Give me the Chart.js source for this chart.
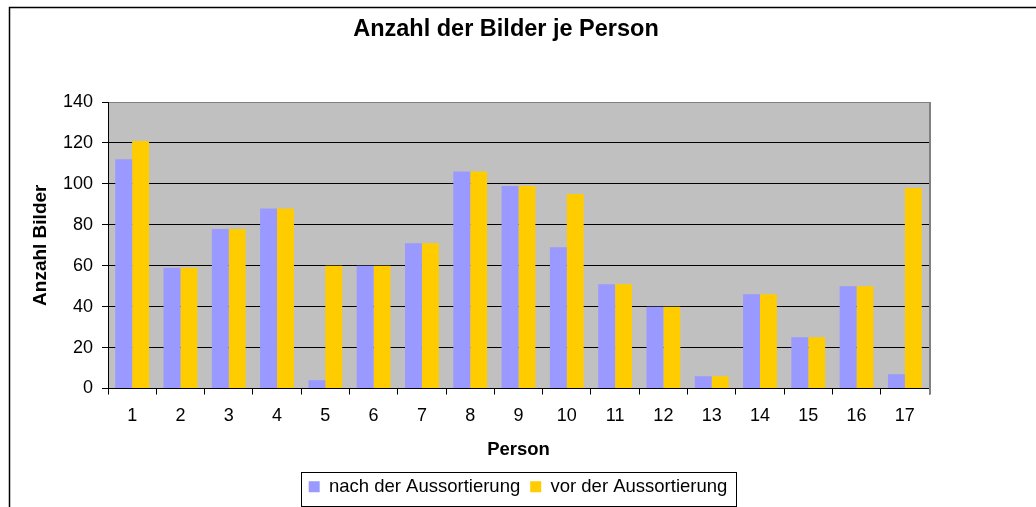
<!DOCTYPE html>
<html>
<head>
<meta charset="utf-8">
<script src="https://cdn.jsdelivr.net/npm/chart.js@4/dist/chart.umd.min.js"></script>
<style>
  html, body { margin: 0; padding: 0; background: #fff; }
  #wrap { width: 1036px; height: 507px; }
</style>
</head>
<body>
<div id="wrap"><canvas id="chartBilder"></canvas></div>
<script>
// ===== Anzahl der Bilder je Person =====

const personen = ['1', '2', '3', '4', '5', '6', '7', '8', '9', '10', '11', '12', '13', '14', '15', '16', '17'];
const nachAussortierung = [112, 59, 78, 88, 4, 60, 71, 106, 99, 69, 51, 40, 6, 46, 25, 50, 7];
const vorAussortierung  = [121, 59, 78, 88, 60, 60, 71, 106, 99, 95, 51, 40, 6, 46, 25, 50, 98];
const yTicks = [0, 20, 40, 60, 80, 100, 120, 140];

const FONT = "'Liberation Sans', Arial, sans-serif";
const C = {
  nach:  '#9999FF',
  vor:   '#FFCC00',
  plot:  '#C0C0C0',
  edge:  '#808080',
  ink:   '#000'
};

// Rahmen, grauer Plotbereich, Titel und Legendenkasten
const pluginFrame = {
  id: 'frame',
  beforeDraw(chart) {
    const { ctx, chartArea: a } = chart;
    ctx.save();
    ctx.fillStyle = '#fff';
    ctx.fillRect(0, 0, chart.width, chart.height);
    ctx.strokeStyle = C.ink;
    ctx.lineWidth = 1.5;
    ctx.beginPath();
    ctx.moveTo(9.5, chart.height);
    ctx.lineTo(9.5, 7.5);
    ctx.lineTo(chart.width, 7.5);
    ctx.stroke();
    ctx.fillStyle = C.plot;
    ctx.fillRect(a.left, a.top, a.right - a.left, a.bottom - a.top);
    ctx.restore();
  },
  afterDraw(chart) {
    const { ctx, chartArea: a } = chart;
    ctx.save();
    // rechte Kante des Plotbereichs
    ctx.strokeStyle = C.edge;
    ctx.lineWidth = 2;
    ctx.beginPath();
    ctx.moveTo(a.right + 1, a.top);
    ctx.lineTo(a.right + 1, a.bottom + 6);
    ctx.stroke();

    // Titel
    ctx.fillStyle = C.ink;
    ctx.font = `bold 23.5px ${FONT}`;
    ctx.textAlign = 'center';
    ctx.textBaseline = 'middle';
    ctx.fillText('Anzahl der Bilder je Person', 506, 30);

    // Kasten um die Legende
    const boxes = chart.legend && chart.legend.legendHitBoxes;
    if (boxes && boxes.length) {
      const l = Math.min(...boxes.map(b => b.left)) - 8;
      const r = Math.max(...boxes.map(b => b.left + b.width)) + 8;
      const t = Math.min(...boxes.map(b => b.top)) - 6;
      const btm = Math.max(...boxes.map(b => b.top + b.height)) + 9;
      ctx.strokeStyle = C.ink;
      ctx.lineWidth = 1;
      ctx.strokeRect(Math.round(l) + 0.5, Math.round(t) + 0.5, Math.round(r - l), Math.round(btm - t));
    }
    ctx.restore();
  }
};

new Chart(document.getElementById('chartBilder'), {
  type: 'bar',
  data: {
    labels: personen,
    datasets: [
      {
        label: 'nach der Aussortierung',
        data: nachAussortierung,
        backgroundColor: C.nach,
        borderWidth: 0,
        categoryPercentage: 0.7,
        barPercentage: 1.0
      },
      {
        label: 'vor der Aussortierung',
        data: vorAussortierung,
        backgroundColor: C.vor,
        borderWidth: 0,
        categoryPercentage: 0.7,
        barPercentage: 1.0
      }
    ]
  },
  plugins: [pluginFrame],
  options: {
    responsive: true, maintainAspectRatio: false,
    animation: false,
    layout: { padding: { left: 0, right: 0, top: 102, bottom: 1 } },
    plugins: {
      title: { display: false },
      tooltip: { enabled: false },
      legend: {
        position: 'bottom',
        labels: {
          color: C.ink,
          font: { size: 18.5, family: FONT },
          boxWidth: 11, boxHeight: 11,
          padding: 10
        }
      }
    },
    scales: {
      x: {
        grid: {
          display: true, drawOnChartArea: false, drawTicks: true,
          offset: true, tickLength: 6, color: C.ink
        },
        border: { color: C.ink, width: 1 },
        ticks: { color: C.ink, font: { size: 18, family: FONT }, padding: 11, maxRotation: 0 },
        title: {
          display: true, text: 'Person', color: C.ink,
          font: { size: 18.5, weight: 'bold', family: FONT },
          padding: { top: 0, bottom: 6 }
        },
        afterFit: s => { s.height = 79; }
      },
      y: {
        min: 0, max: 140,
        afterBuildTicks: s => { s.ticks = yTicks.map(v => ({ value: v })); },
        grid: {
          color: ctx => (ctx.tick && ctx.tick.value === 140) ? C.edge : C.ink,
          tickColor: C.ink,
          tickLength: 6, lineWidth: 1
        },
        border: { color: C.ink, width: 1 },
        ticks: { color: C.ink, font: { size: 18, family: FONT }, padding: 9 },
        title: {
          display: true, text: 'Anzahl Bilder', color: C.ink,
          font: { size: 19, weight: 'bold', family: FONT },
          padding: { top: 29, bottom: 0 }
        },
        afterFit: s => { s.width = 108; }
      },
      yRand: {
        position: 'right',
        display: true,
        grid: { display: false, drawTicks: false },
        border: { display: false },
        ticks: { display: false },
        afterFit: s => { s.width = 107; }
      }
    }
  }
});
</script>
</body>
</html>
